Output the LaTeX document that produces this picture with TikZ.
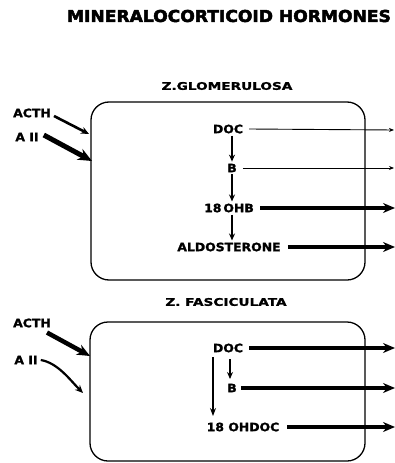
\documentclass[tikz,border=0pt]{standalone}
\usepackage{fontspec}
\setmainfont{DejaVu Sans}
\newfontfamily\lblfont[FakeStretch=1.08,FakeBold=1.5]{DejaVu Sans Bold}
\newfontfamily\zonefont[FakeStretch=1.3,FakeBold=1.5]{DejaVu Sans Bold}
\newfontfamily\ttlfont[FakeStretch=1.05,FakeBold=3]{DejaVu Sans Bold}
\usetikzlibrary{arrows.meta,calc}
\begin{document}
\begin{tikzpicture}[x=1pt,y=-1pt,
  lbl/.style={inner sep=0pt,font=\lblfont\fontsize{11.5}{12}\selectfont},
  zone/.style={inner sep=0pt,font=\zonefont\fontsize{10.5}{11}\selectfont},
  cell/.style={draw,line width=1.3pt,rounded corners=18pt},
  thin/.style={line width=0.9pt,-{Stealth[length=5pt,width=4pt]}},
  med/.style={line width=2.6pt,-{Stealth[length=8pt,width=7pt]}},
  thick/.style={line width=4pt,-{Stealth[length=12pt,width=10pt]}},
  down/.style={line width=1.2pt,-{Stealth[length=7pt,width=6pt]},shorten <=2pt,shorten >=2pt}]
\useasboundingbox (0,0) rectangle (395,463);
\node[inner sep=0pt,font=\ttlfont\fontsize{16.3}{17}\selectfont] (title) at (229,16) {MINERALOCORTICOID HORMONES};

% Zona glomerulosa
\node[zone] (zg) at (227,86) {Z.GLOMERULOSA};
\draw[cell] (91,102) rectangle (365,280);
\node[lbl] (acth1) at (32,113) {ACTH};
\node[lbl] (aii1) at (27,137) {A II};
\node[lbl] (doc1) at (228,129) {DOC};
\node[lbl] (b1) at (232,168) {B};
\node[lbl] (ohb) at (229,208) {18\,OHB};
\node[lbl] (aldo) at (229,247) {ALDOSTERONE};
\coordinate (acth1e) at (89,134);
\coordinate (aii1e) at (92,161);
\coordinate (doc1e) at (394,130);
\coordinate (b1e) at (394,168);
\coordinate (ohbe) at (395,208);
\coordinate (aldoe) at (395,247);
\draw[med] ($(acth1.east)+(3,3)$) -- (acth1e);
\draw[thick,line width=5pt,-{Stealth[length=14pt,width=12pt]}] ($(aii1.east)+(5,-2)$) -- (aii1e);
\draw[thin] ($(doc1.east)+(6,0)$) -- (doc1e);
\draw[thin] ($(b1.east)+(6,0)$) -- (b1e);
\draw[thick] ($(ohb.east)+(6,0)$) -- (ohbe);
\draw[thick] ($(aldo.east)+(7,0)$) -- (aldoe);
\draw[down] (b1 |- doc1.south) -- (b1.north);
\draw[down] (b1.south) -- (b1 |- ohb.north);
\draw[down] (b1 |- ohb.south) -- (b1 |- aldo.north);

% Zona fasciculata
\node[zone] (zf) at (226,302) {Z.\ FASCICULATA};
\draw[cell] (90,322) rectangle (365,461);
\node[lbl] (acth2) at (32,323) {ACTH};
\node[lbl] (aii2) at (26,360) {A II};
\node[lbl] (doc2) at (228,348) {DOC};
\node[lbl] (b2) at (232,388) {B};
\node[lbl] (ohdoc) at (243,427) {18 OHDOC};
\coordinate (acth2e) at (90,356);
\coordinate (aii2e) at (83,393);
\coordinate (doc2e) at (395,348);
\coordinate (b2e) at (395,388);
\coordinate (ohdoce) at (395,427);
\coordinate (ls) at (213,357);
\coordinate (le) at (213,416);
\draw[thick,line width=4.5pt,-{Stealth[length=13pt,width=11pt]}] ($(acth2.south east)+(-4,5)$) -- (acth2e);
\draw[med,line width=2.2pt] ($(aii2.east)+(3,0)$) .. controls (58,363) and (70,380) .. (aii2e);
\draw[thick] ($(doc2.east)+(6,0)$) -- (doc2e);
\draw[thick] ($(b2.east)+(4,0)$) -- (b2e);
\draw[thick] ($(ohdoc.east)+(8,0)$) -- (ohdoce);
\draw[down] (230,357) -- (230,381);
\draw[line width=1.2pt,-{Stealth[length=8pt,width=6pt]}] (ls) -- (le);
\end{tikzpicture}
\end{document}
